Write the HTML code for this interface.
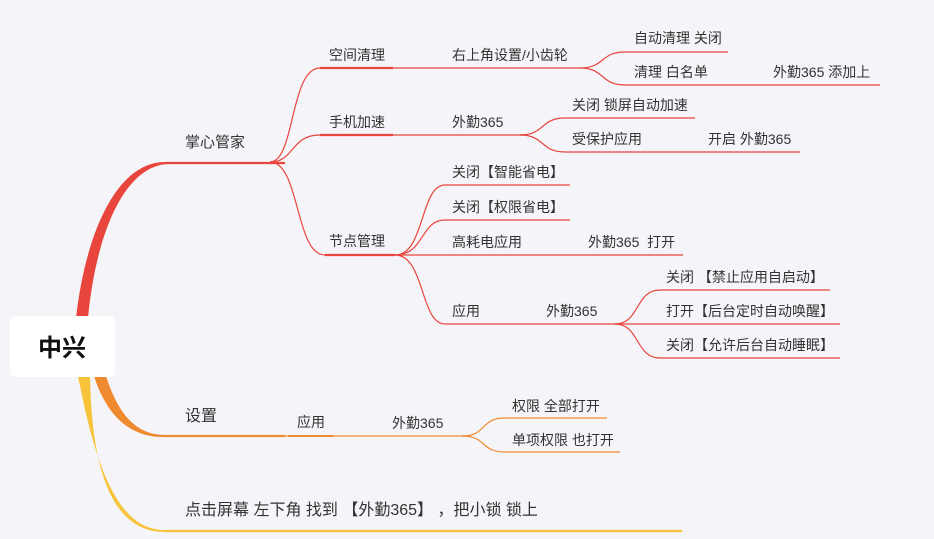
<!DOCTYPE html>
<html><head><meta charset="utf-8"><style>
html,body{margin:0;padding:0;background:#f5f5f9;}
svg{display:block}
text{font-family:"Liberation Sans","Noto Sans CJK SC",sans-serif;font-size:14px;fill:#333}
</style></head><body>
<svg width="934" height="539" viewBox="0 0 934 539" xmlns="http://www.w3.org/2000/svg">
<rect width="934" height="539" fill="#f5f5f9"/>
<!-- main branches -->
<path d="M76 318 C86 230 118 162 165 162 L168 162 L168 164 C124 166 96 234 88 318 Z" fill="#e8453c"/>
<line x1="165" y1="163" x2="285" y2="163" stroke="#e8453c" stroke-width="2.2"/>
<path d="M106 376 C120 420 140 435 165 435 L165 437 C134 438 108 420 94 376 Z" fill="#ef8a30"/>
<line x1="165" y1="436" x2="285" y2="436" stroke="#ef8a30" stroke-width="2.2"/>
<path d="M78 376 C98 480 122 530 165 530 L165 532 C118 532 92 484 90 376 Z" fill="#f7c33a"/>
<line x1="165" y1="531" x2="682" y2="531" stroke="#f7c33a" stroke-width="2.2"/>
<!-- root -->
<rect x="10" y="316" width="105" height="61" rx="6" fill="#ffffff"/>
<text x="62" y="356" text-anchor="middle" style="font-size:24px;font-weight:bold;fill:#111">中兴</text>
<text x="185" y="147" style="font-size:15px">掌心管家</text>
<text x="185" y="421" style="font-size:16px">设置</text>
<text x="185" y="515" style="font-size:16px" xml:space="preserve">点击屏幕 左下角 找到 【外勤365】 ，把小锁 锁上</text>
<!-- red tree -->
<g fill="none" stroke="#e8453c" stroke-width="1.2">
<path d="M270 162 C295 162 290 68 320 68 L393 68"/>
<path d="M270 162 C295 162 290 135 320 135 L393 135"/>
<path d="M270 162 C300 162 295 255 325 255 L395 255"/>
<path d="M393 68 L580 68"/>
<path d="M580 68 C605 68 600 52 625 52 L728 52"/>
<path d="M580 68 C605 68 600 85 625 85 L880 85"/>
<path d="M393 135 L525 135"/>
<path d="M520 135 C545 135 540 118 565 118 L695 118"/>
<path d="M520 135 C545 135 540 152 565 152 L800 152"/>
<path d="M395 255 C425 255 420 185 445 185 L570 185"/>
<path d="M395 255 C425 255 420 220 445 220 L570 220"/>
<path d="M395 255 L683 255"/>
<path d="M395 255 C425 255 420 324 445 324 L615 324"/>
<path d="M615 324 C640 324 635 290 660 290 L830 290"/>
<path d="M615 324 L840 324"/>
<path d="M615 324 C640 324 635 358 660 358 L840 358"/>
</g>
<g stroke="#e8453c" stroke-width="2.2">
<line x1="320" y1="68" x2="393" y2="68"/><line x1="320" y1="135" x2="393" y2="135"/><line x1="325" y1="255" x2="395" y2="255"/>
</g>
<text x="329" y="60">空间清理</text>
<text x="329" y="127">手机加速</text>
<text x="329" y="246">节点管理</text>
<text x="452" y="60">右上角设置/小齿轮</text>
<text x="634" y="43">自动清理 关闭</text>
<text x="634" y="77">清理 白名单</text>
<text x="773" y="77">外勤365 添加上</text>
<text x="452" y="127">外勤365</text>
<text x="572" y="110">关闭 锁屏自动加速</text>
<text x="572" y="144">受保护应用</text>
<text x="708" y="144">开启 外勤365</text>
<text x="452" y="177">关闭【智能省电】</text>
<text x="452" y="212">关闭【权限省电】</text>
<text x="452" y="247">高耗电应用</text>
<text x="588" y="247" xml:space="preserve">外勤365  打开</text>
<text x="452" y="316">应用</text>
<text x="546" y="316">外勤365</text>
<text x="666" y="282">关闭 【禁止应用自启动】</text>
<text x="666" y="316">打开【后台定时自动唤醒】</text>
<text x="666" y="350">关闭【允许后台自动睡眠】</text>
<!-- orange tree -->
<g fill="none" stroke="#ef8a30" stroke-width="1.2">
<path d="M285 436 L470 436"/>
<path d="M462 436 C487 436 480 418 505 418 L607 418"/>
<path d="M462 436 C487 436 480 452 505 452 L620 452"/>
</g>
<line x1="288" y1="436" x2="333" y2="436" stroke="#ef8a30" stroke-width="2"/>
<text x="297" y="427">应用</text>
<text x="392" y="428">外勤365</text>
<text x="512" y="411">权限 全部打开</text>
<text x="512" y="445">单项权限 也打开</text>
</svg>
</body></html>
